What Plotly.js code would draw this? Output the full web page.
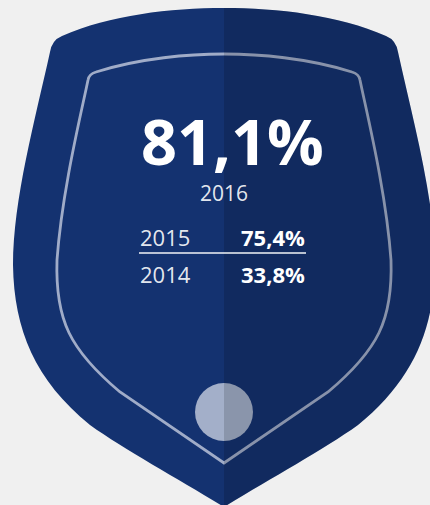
<!DOCTYPE html>
<html>
<head>
<meta charset="utf-8">
<script src="https://cdn.plot.ly/plotly-3.0.1.min.js"></script>
<style>html,body{margin:0;padding:0;background:#f0f0f0;}#chart{width:430px;height:505px;}</style>
</head>
<body>
<div id="chart"></div>
<script>
// Data
const years = ['2016', '2015', '2014'];
const values = [81.1, 75.4, 33.8];

function fmt(v) { return v.toFixed(1).replace('.', ',') + '%'; }

const FONT = '"Open Sans", "DejaVu Sans", sans-serif';
const BASE = 'rgb(20,50,112)';
const LINE = 'rgb(160,172,200)';

const outerPath = 'M224,8 C170,8 110,15 62,36 Q52,40 50,52 C35,120 13,200 13,265 C14,330 35,380 90,425 C125,450 180,480 224,507 ' +
  'C268,480 323,450 358,425 C413,380 434,330 435,265 C435,200 413,120 398,52 Q396,40 386,36 C338,15 278,8 224,8 Z';
const rightHalf = 'M224,507 C268,480 323,450 358,425 C413,380 434,330 435,265 C435,200 413,120 398,52 Q396,40 386,36 C338,15 278,8 224,8 Z';
const innerPath = 'M224,54 C190,54 140,58 96,72 Q89,74 88,80 C82,110 62,190 57,260 C55,320 70,350 120,392 L224,463 L328,392 ' +
  'C378,350 393,320 391,260 C386,190 366,110 360,80 Q359,74 352,72 C308,58 258,54 224,54 Z';

const shapes = [
  {type: 'path', xref: 'x', yref: 'y', path: outerPath, fillcolor: BASE, line: {width: 0}, layer: 'above'},
  {type: 'path', xref: 'x', yref: 'y', path: innerPath, fillcolor: 'rgba(0,0,0,0)', line: {color: LINE, width: 2.8}, layer: 'above'},
  {type: 'circle', xref: 'x', yref: 'y', x0: 195, x1: 253, y0: 383, y1: 441, fillcolor: 'rgb(163,175,201)', line: {width: 0}, layer: 'above'},
  {type: 'path', xref: 'x', yref: 'y', path: rightHalf, fillcolor: 'rgba(0,0,0,0.15)', line: {width: 0}, layer: 'above'},
  {type: 'line', xref: 'x', yref: 'y', x0: 139, x1: 306, y0: 253, y1: 253, line: {color: 'rgba(255,255,255,0.95)', width: 1.5}, layer: 'above'}
];

const annotations = [
  {x: 232, y: 140, text: '<b>' + fmt(values[0]) + '</b>', height: 70, font: {family: FONT, size: 63, color: '#ffffff'}},
  {x: 224, y: 193, text: years[0], height: 24, font: {family: FONT, size: 21, color: 'rgba(255,255,255,0.9)'}},
  {x: 139, y: 237, text: years[1], xanchor: 'left', font: {family: FONT, size: 22, color: 'rgba(255,255,255,0.9)'}},
  {x: 306, y: 237, text: '<b>' + fmt(values[1]) + '</b>', xanchor: 'right', font: {family: FONT, size: 22, color: '#ffffff'}},
  {x: 139, y: 274, text: years[2], xanchor: 'left', font: {family: FONT, size: 22, color: 'rgba(255,255,255,0.9)'}},
  {x: 306, y: 274, text: '<b>' + fmt(values[2]) + '</b>', xanchor: 'right', font: {family: FONT, size: 22, color: '#ffffff'}}
].map(a => Object.assign({xref: 'x', yref: 'y', showarrow: false, xanchor: 'center', yanchor: 'middle', valign: 'middle', borderpad: 0}, a));

const layout = {
  width: 430, height: 505,
  margin: {l: 0, r: 0, t: 0, b: 0, pad: 0},
  paper_bgcolor: '#f0f0f0', plot_bgcolor: '#f0f0f0',
  xaxis: {range: [0, 430], visible: false, fixedrange: true},
  yaxis: {range: [505, 0], visible: false, fixedrange: true},
  showlegend: false,
  shapes: shapes,
  annotations: annotations
};

Plotly.newPlot('chart', [], layout, {displayModeBar: false, staticPlot: true});
</script>
</body>
</html>
